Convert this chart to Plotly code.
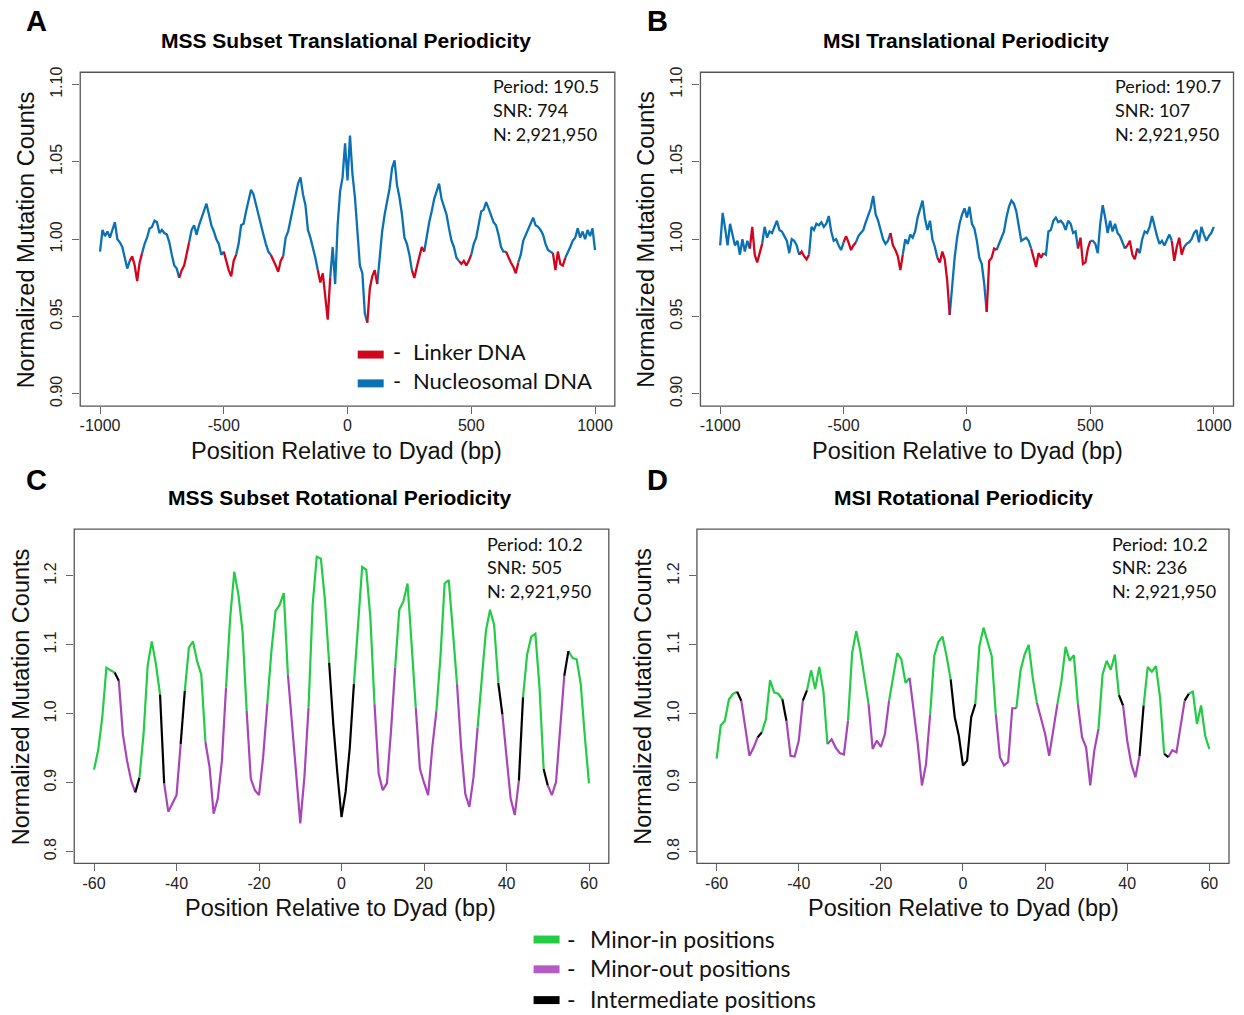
import plotly.graph_objects as go

W, H = 1244, 1015

# ---------------- data ----------------
TRANS_X = list(range(-1000, 1001, 10))

MSS_TRANS = [
    0.992, 1.006, 1.002, 1.005, 1.001, 1.006, 1.011, 1.000, 0.998, 0.995,   # -1000..-910
    0.988, 0.981, 0.986, 0.989, 0.983, 0.973, 0.985, 0.991, 0.997, 1.001,   # -900..-810
    1.007, 1.008, 1.012, 1.011, 1.004, 1.006, 1.004, 1.003, 0.998, 0.990,   # -800..-710
    0.983, 0.981, 0.975, 0.980, 0.983, 0.990, 0.998, 1.006, 1.009, 1.003,   # -700..-610
    1.009, 1.014, 1.018, 1.023, 1.016, 1.009, 1.005, 1.000, 0.997, 0.990,   # -600..-510
    0.992, 0.986, 0.980, 0.976, 0.986, 0.990, 0.997, 1.009, 1.010, 1.018,   # -500..-410
    1.025, 1.032, 1.029, 1.022, 1.015, 1.009, 1.003, 0.997, 0.992, 0.990,   # -400..-310
    0.987, 0.983, 0.979, 0.986, 0.989, 1.001, 1.005, 1.013, 1.022, 1.029,   # -300..-210
    1.036, 1.040, 1.029, 1.022, 1.006, 1.001, 0.995, 0.988, 0.980, 0.972,   # -200..-110
    0.978, 0.962, 0.948, 0.975, 0.995, 0.971, 1.009, 1.031, 1.040, 1.062,   # -100..-10
    1.038,                                                                   # 0
    1.067, 1.042, 1.027, 1.005, 0.983, 0.978, 0.952, 0.946, 0.968, 0.976,   # 10..100
    0.980, 0.971, 0.990, 1.005, 1.016, 1.024, 1.033, 1.046, 1.051, 1.035,   # 110..200
    1.027, 1.016, 1.001, 0.997, 0.990, 0.980, 0.975, 0.982, 0.988, 0.995,   # 210..300
    0.992, 1.003, 1.011, 1.018, 1.026, 1.031, 1.036, 1.026, 1.021, 1.016,   # 310..400
    1.007, 0.999, 0.995, 0.988, 0.986, 0.984, 0.986, 0.983, 0.986, 0.990,   # 410..500
    0.997, 1.001, 1.010, 1.018, 1.019, 1.024, 1.020, 1.016, 1.011, 1.009,   # 510..600
    1.003, 0.995, 0.992, 0.992, 0.988, 0.985, 0.982, 0.978, 0.985, 0.990,   # 610..700
    0.999, 1.003, 1.006, 1.010, 1.014, 1.009, 1.008, 1.006, 1.003, 0.997,   # 710..800
    0.993, 0.992, 0.991, 0.980, 0.992, 0.984, 0.983, 0.988, 0.991, 0.995,   # 810..900
    0.999, 1.001, 1.007, 1.001, 1.005, 1.000, 1.006, 1.002, 1.007, 0.993,   # 910..1000
]

MSI_TRANS = [
    0.996, 1.017, 1.007, 0.996, 1.010, 1.003, 0.996, 0.999, 0.990, 1.000,   # -1000..-910
    0.992, 0.999, 0.994, 1.008, 0.990, 0.985, 0.991, 0.997, 1.008, 1.001,   # -900..-810
    1.005, 1.004, 1.008, 1.012, 1.006, 1.005, 1.002, 0.999, 0.991, 1.000,   # -800..-710
    0.999, 0.996, 0.990, 0.992, 0.989, 0.987, 0.990, 1.008, 1.006, 1.010,   # -700..-610
    1.009, 1.011, 1.008, 1.010, 1.015, 1.005, 0.999, 1.000, 0.996, 0.993,   # -600..-510
    0.998, 1.002, 0.998, 0.993, 0.996, 0.998, 1.002, 1.004, 1.006, 1.011,   # -500..-410
    1.015, 1.020, 1.028, 1.016, 1.012, 1.005, 1.000, 0.997, 0.999, 1.004,   # -400..-310
    0.996, 0.993, 0.989, 0.980, 0.990, 1.000, 0.997, 1.003, 1.001, 1.005,   # -300..-210
    1.014, 1.020, 1.025, 1.013, 1.006, 1.012, 1.000, 0.995, 0.988, 0.985,   # -200..-110
    0.992, 0.987, 0.973, 0.951, 0.971, 0.988, 1.001, 1.010, 1.016, 1.020,   # -100..-10
    1.014,                                                                   # 0
    1.021, 1.010, 1.007, 0.999, 0.988, 0.984, 0.971, 0.953, 0.986, 0.988,   # 10..100
    0.994, 0.993, 0.997, 1.000, 1.005, 1.014, 1.021, 1.025, 1.023, 1.018,   # 110..200
    1.008, 0.999, 1.000, 1.001, 0.999, 0.994, 0.987, 0.982, 0.991, 0.988,   # 210..300
    0.991, 0.990, 1.005, 1.006, 1.012, 1.014, 1.011, 1.012, 1.010, 1.006,   # 310..400
    1.012, 1.010, 1.004, 1.005, 0.994, 1.001, 0.984, 0.985, 0.994, 0.999,   # 410..500
    0.999, 0.997, 0.991, 1.010, 1.022, 1.014, 1.004, 1.012, 1.005, 1.010,   # 510..600
    1.004, 1.002, 0.998, 0.994, 0.996, 0.999, 0.990, 0.987, 0.994, 0.991,   # 610..700
    1.000, 1.005, 1.004, 1.008, 1.015, 1.008, 1.002, 0.997, 0.999, 0.996,   # 710..800
    1.000, 1.003, 0.999, 0.986, 0.995, 1.001, 0.990, 0.995, 0.997, 0.998,   # 810..900
    1.000, 1.004, 1.006, 0.998, 1.008, 1.003, 0.999, 1.002, 1.004, 1.008,   # 910..1000
]

LINKER_START = [-880, -685, -500, -310, -120, 75, 260, 450, 640, 830]
LINKER_END = [-830, -645, -455, -265, -70, 120, 305, 495, 685, 875]

ROT_X = list(range(-60, 61))

MSS_ROT = [
    0.919, 0.947, 0.995, 1.067, 1.063, 1.060, 1.048, 0.970, 0.932, 0.903,   # -60..-51
    0.886, 0.907, 0.970, 1.070, 1.105, 1.072, 1.028, 0.899, 0.858, 0.870,   # -50..-41
    0.882, 0.956, 1.033, 1.096, 1.105, 1.076, 1.057, 0.959, 0.923, 0.855,   # -40..-31
    0.877, 0.932, 1.038, 1.139, 1.206, 1.173, 1.120, 1.004, 0.906, 0.889,   # -30..-21
    0.882, 0.937, 1.014, 1.091, 1.149, 1.158, 1.175, 1.057, 0.985, 0.908,   # -20..-11
    0.841, 0.908, 1.009, 1.158, 1.228, 1.225, 1.163, 1.074, 0.985, 0.913,   # -10..-1
    0.850,                                                                   # 0
    0.887, 0.951, 1.043, 1.129, 1.213, 1.209, 1.139, 1.014, 0.913, 0.889,   # 1..10
    0.899, 0.975, 1.067, 1.151, 1.163, 1.189, 1.100, 1.009, 0.920, 0.900,   # 11..20
    0.882, 0.951, 1.004, 1.084, 1.189, 1.194, 1.120, 1.043, 0.951, 0.884,   # 21..30
    0.865, 0.908, 0.980, 1.057, 1.120, 1.151, 1.129, 1.045, 0.999, 0.932,   # 31..40
    0.877, 0.853, 0.903, 1.024, 1.086, 1.112, 1.116, 1.038, 0.920, 0.896,   # 41..50
    0.882, 0.901, 0.985, 1.055, 1.091, 1.081, 1.079, 1.043, 0.966, 0.899,   # 51..60
]

MSI_ROT = [
    0.935, 0.983, 0.990, 1.021, 1.029, 1.032, 1.019, 0.975, 0.939, 0.951,   # -60..-51
    0.966, 0.973, 0.992, 1.049, 1.031, 1.029, 1.021, 0.990, 0.939, 0.938,   # -50..-41
    0.961, 1.019, 1.034, 1.063, 1.036, 1.068, 1.033, 0.956, 0.963, 0.951,   # -40..-31
    0.943, 0.941, 0.990, 1.088, 1.120, 1.091, 1.052, 1.014, 0.949, 0.961,   # -30..-21
    0.952, 0.971, 1.019, 1.052, 1.088, 1.079, 1.045, 1.052, 1.004, 0.956,   # -20..-11
    0.896, 0.927, 0.999, 1.084, 1.104, 1.112, 1.084, 1.050, 0.995, 0.968,   # -10..-1
    0.925,                                                                   # 0
    0.932, 0.995, 1.014, 1.098, 1.125, 1.105, 1.084, 0.999, 0.937, 0.925,   # 1..10
    0.930, 1.008, 1.008, 1.062, 1.086, 1.100, 1.052, 1.016, 0.995, 0.971,   # 11..20
    0.939, 0.975, 1.014, 1.048, 1.097, 1.077, 1.085, 1.014, 0.966, 0.951,   # 21..30
    0.896, 0.947, 0.978, 1.057, 1.077, 1.064, 1.086, 1.027, 1.012, 0.961,   # 31..40
    0.927, 0.908, 0.939, 1.012, 1.068, 1.061, 1.069, 1.024, 0.942, 0.937,   # 41..50
    0.947, 0.944, 0.980, 1.019, 1.029, 1.032, 0.985, 1.012, 0.968, 0.949,   # 51..60
]

# G = minor-in, P = minor-out, K = intermediate (class of segment starting at each position)
ROT_CLASS = "".join([
    "GGGGG", "K", "PPPP", "K", "GGGGG", "K", "PPPP", "K",
    "GGGGG", "PPPPP", "GGGGG", "PPPPP", "GGGGG", "PPPPP", "GGGGG",
    "KKKKKK",
    "GGGGG", "PPPPP", "GGGGG", "PPPPP", "GGGGG", "PPPPP", "GGGGG",
    "K", "PPPP", "K", "GGGGG", "K", "PPPP", "K", "GGGGGG",
])
assert len(ROT_CLASS) == len(ROT_X) == len(MSS_ROT) == len(MSI_ROT)
assert len(TRANS_X) == len(MSS_TRANS) == len(MSI_TRANS)

PANEL_TITLES = ["MSS Subset Translational Periodicity", "MSI Translational Periodicity",
                "MSS Subset Rotational Periodicity", "MSI Rotational Periodicity"]
PANEL_LETTERS = ["A", "B", "C", "D"]
STATS = [["Period: 190.5", "SNR: 794", "N: 2,921,950"],
         ["Period: 190.7", "SNR: 107", "N: 2,921,950"],
         ["Period: 10.2", "SNR: 505", "N: 2,921,950"],
         ["Period: 10.2", "SNR: 236", "N: 2,921,950"]]

# ---------------- styles ----------------
BLUE = "#0A72B4"
RED = "#D0061E"
GREEN = "#22CC44"
PURPLE = "#A845B8"
BLACK = "#000000"
AX_FONT = "Liberation Sans, Arial, sans-serif"
CAL_FONT = "Lato, Open Sans, sans-serif"


def segment_runs(x, y, cls, target):
    xs, ys = [], []
    n = len(x)
    i = 0
    while i < n - 1:
        if cls[i] == target:
            j = i
            while j < n - 1 and cls[j] == target:
                j += 1
            xs += list(x[i:j + 1]) + [None]
            ys += list(y[i:j + 1]) + [None]
            i = j
        else:
            i += 1
    return xs, ys


def linker_class(x):
    out = []
    for v in x:
        lk = any(s <= v < e for s, e in zip(LINKER_START, LINKER_END))
        out.append("L" if lk else "N")
    return out


fig = go.Figure()

trans_cls = linker_class(TRANS_X)
for k, series in enumerate([MSS_TRANS, MSI_TRANS]):
    ax = "" if k == 0 else "2"
    for target, col in [("N", BLUE), ("L", RED)]:
        xs, ys = segment_runs(TRANS_X, series, trans_cls, target)
        fig.add_trace(go.Scatter(x=xs, y=ys, mode="lines", line=dict(color=col, width=2.3),
                                 xaxis="x" + ax, yaxis="y" + ax, hoverinfo="skip",
                                 showlegend=False, connectgaps=False))

for k, series in enumerate([MSS_ROT, MSI_ROT]):
    ax = str(k + 3)
    for target, col in [("G", GREEN), ("P", PURPLE), ("K", BLACK)]:
        xs, ys = segment_runs(ROT_X, series, ROT_CLASS, target)
        fig.add_trace(go.Scatter(x=xs, y=ys, mode="lines", line=dict(color=col, width=2.2),
                                 xaxis="x" + ax, yaxis="y" + ax, hoverinfo="skip",
                                 showlegend=False, connectgaps=False))

# panel boxes (pixels): left, right, top, bottom
BOXES = [(79.3, 614.3, 66.7, 403.0), (700.0, 1233.5, 66.7, 403.0),
         (73.3, 608.3, 526.7, 863.3), (696.5, 1229.0, 526.7, 863.3)]


def px(v):
    return v / W


def py(v):
    return 1 - v / H


tick_font = dict(family=AX_FONT, size=16, color="#222")
layout_axes = {}
for i, (l, r, t, b) in enumerate(BOXES):
    sfx = "" if i == 0 else str(i + 1)
    if i < 2:
        xr, xt = [-1080, 1080], [-1000, -500, 0, 500, 1000]
        yr, yt = [0.892, 1.108], [0.90, 0.95, 1.00, 1.05, 1.10]
        ytt = ["0.90", "0.95", "1.00", "1.05", "1.10"]
    else:
        xr, xt = [-64.8, 64.8], [-60, -40, -20, 0, 20, 40, 60]
        yr, yt = [0.783, 1.268], [0.8, 0.9, 1.0, 1.1, 1.2]
        ytt = ["0.8", "0.9", "1.0", "1.1", "1.2"]
    layout_axes["xaxis" + sfx] = dict(
        domain=[px(l), px(r)], anchor="y" + sfx, range=xr, tickvals=xt,
        ticktext=[str(v) for v in xt], ticks="outside", ticklen=7, tickcolor="#666",
        tickwidth=1, showline=False, showgrid=False, zeroline=False, tickfont=tick_font,
        ticklabelstandoff=-2, fixedrange=True)
    layout_axes["yaxis" + sfx] = dict(
        domain=[py(b), py(t)], anchor="x" + sfx, range=yr, tickvals=yt, ticktext=ytt,
        tickangle=-90, ticks="outside", ticklen=7, tickcolor="#666", tickwidth=1,
        showline=False, showgrid=False, zeroline=False, tickfont=tick_font,
        ticklabelstandoff=4, fixedrange=True)

shapes = []
for i, (l, r, t, b) in enumerate(BOXES):
    shapes.append(dict(type="rect", xref="paper", yref="paper", x0=px(l), x1=px(r),
                       y0=py(b), y1=py(t), line=dict(color="#555", width=1.3),
                       fillcolor="rgba(0,0,0,0)"))

annotations = []


def text(x, y, s, size, family=AX_FONT, xanchor="center", angle=0, bold=False, color="#111"):
    annotations.append(dict(xref="paper", yref="paper", x=px(x), y=py(y),
                            text=("<b>%s</b>" % s) if bold else s, showarrow=False,
                            xanchor=xanchor, yanchor="middle", textangle=angle,
                            font=dict(family=family, size=size, color=color)))


letter_pos = [(36, 15), (657, 15), (36, 477), (657, 477)]
title_pos = [(345, 35), (966, 35), (339, 495), (963, 495)]
xlab_pos = [(346, 448), (967, 448), (340, 908), (963, 908)]
ylab_pos = [(25, 235), (646, 235), (20, 695), (643, 695)]
stat_pos = [(490, [81, 105, 129]), (1113, [81, 105, 129]),
            (484, [542, 565, 589]), (1110, [542, 565, 589])]

for i in range(4):
    text(*letter_pos[i], PANEL_LETTERS[i], 29, bold=True, color="#000")
    text(*title_pos[i], PANEL_TITLES[i], 21, bold=True, color="#000")
    text(*xlab_pos[i], "Position Relative to Dyad (bp)", 23.5)
    text(*ylab_pos[i], "Normalized Mutation Counts", 23.5, angle=-90)
    sx, sys_ = stat_pos[i]
    for line, yy in zip(STATS[i], sys_):
        text(sx, yy, line, 18, family=CAL_FONT, xanchor="left")

# panel A legend
for (label, col, yy) in [("Linker DNA", RED, 351), ("Nucleosomal DNA", BLUE, 380)]:
    shapes.append(dict(type="rect", xref="paper", yref="paper", x0=px(357), x1=px(383),
                       y0=py(yy + 4), y1=py(yy - 4), line=dict(width=0), fillcolor=col))
    text(396, yy - 3, "-", 22, family=CAL_FONT)
    text(410, yy - 3, label, 22, family=CAL_FONT, xanchor="left")

# bottom legend
for (label, col, yy) in [("Minor-in positions", GREEN, 940),
                         ("Minor-out positions", "#B45CC4", 970),
                         ("Intermediate positions", BLACK, 1001)]:
    shapes.append(dict(type="rect", xref="paper", yref="paper", x0=px(533), x1=px(559),
                       y0=py(yy + 4), y1=py(yy - 4), line=dict(width=0), fillcolor=col))
    text(571, yy - 1, "-", 23, family=CAL_FONT)
    text(587, yy - 1, label, 23, family=CAL_FONT, xanchor="left")

fig.update_layout(
    width=W, height=H, margin=dict(l=0, r=0, t=0, b=0),
    paper_bgcolor="white", plot_bgcolor="white", showlegend=False,
    shapes=shapes, annotations=annotations, **layout_axes)

fig.write_html("out.html", config={"displayModeBar": False, "staticPlot": True},
               post_script="document.body.style.margin='0px';document.body.style.overflow='hidden';")
